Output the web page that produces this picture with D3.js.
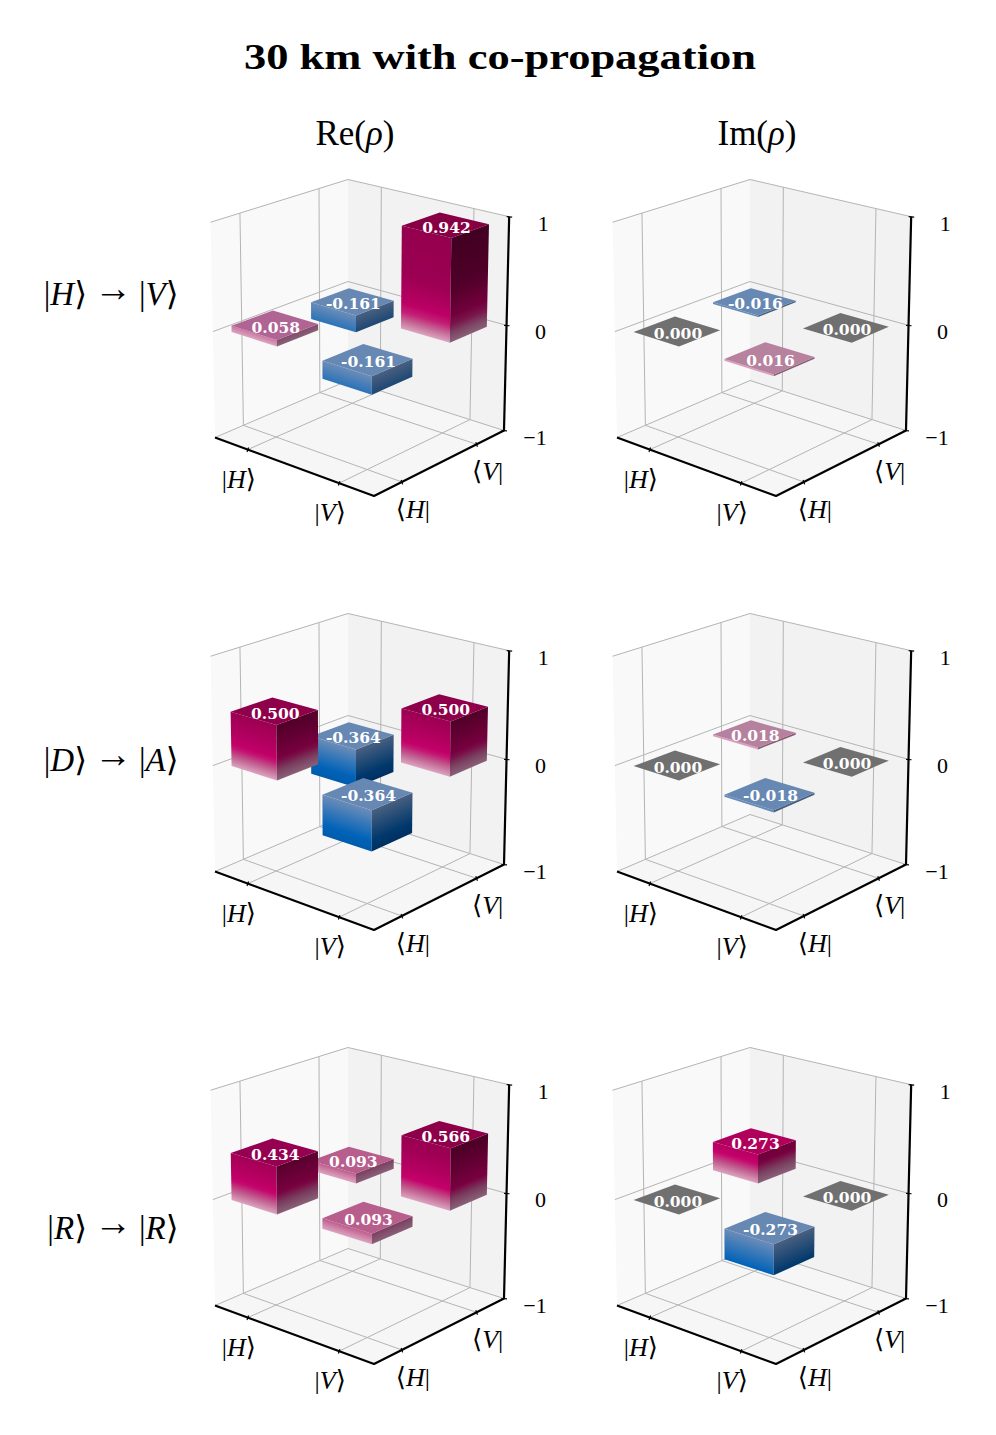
<!DOCTYPE html>
<html>
<head>
<meta charset="utf-8">
<script src="https://cdn.jsdelivr.net/npm/d3@7"></script>
<style>
  html, body { margin: 0; padding: 0; background: #fff; }
  text { font-family: "Liberation Serif", "DejaVu Serif", serif; fill: #000; }
</style>
</head>
<body>
<svg id="chart" width="996" height="1435"></svg>
<script>
const kets = ["H", "V"];
const rowLabels = [["H", "V"], ["D", "A"], ["R", "R"]];
const colLabels = ["Re", "Im"];
const zTicks = [-1, 0, 1];

// [x index, y index] -> value, in drawing order: back, right, left, front
const cellX = [0, 1, 0, 1];
const cellY = [1, 1, 0, 0];
const reRow1 = [-0.161, 0.942, 0.058, -0.161];
const imRow1 = [-0.016, 0.000, 0.000, 0.016];
const reRow2 = [-0.364, 0.500, 0.500, -0.364];
const imRow2 = [0.018, 0.000, 0.000, -0.018];
const reRow3 = [0.093, 0.566, 0.434, 0.093];
const imRow3 = [0.273, 0.000, 0.000, -0.273];
const panels = [[reRow1, imRow1], [reRow2, imRow2], [reRow3, imRow3]];

const panelDx = 402, panelDy = 434;
const barWidth = 0.51;
const xMin = -0.38, xMax = 1.36, yMin = -0.35, yMax = 1.39;

const svg = d3.select("#chart");
const defs = svg.append("defs");
let gradId = 0;

// unit box -> pixels, perspective from the back floor corner
const O = [348, 380.5], A = [215, 437.5], C = [504, 430.5], T = [348, 179.5];
const wa = -0.0722, wc = -0.0652, wh = -0.03;

const xNorm = d3.scaleLinear().domain([xMin, xMax]).range([0, 1]);
const yNorm = d3.scaleLinear().domain([yMin, yMax]).range([1, 0]);
const zNorm = d3.scaleLinear().domain([-1, 1]).range([0, 1]);

function project(x, y, z) {
  const c = xNorm(x), a = yNorm(y), h = zNorm(z);
  const d = 1 + wa * a + wc * c + wh * h;
  return [0, 1].map(i =>
    (O[i] + a * ((1 + wa) * A[i] - O[i]) + c * ((1 + wc) * C[i] - O[i]) + h * ((1 + wh) * T[i] - O[i])) / d);
}

const line = d3.line();

// colour by height
const posLeft = d3.scaleLinear().domain([0, 0.09, 0.19, 0.3, 0.5, 1]).range(["#dca4c0", "#c0608f", "#c4006a", "#b40060", "#9c0052", "#94004e"]);
const posRight = d3.scaleLinear().domain([0, 0.09, 0.19, 0.5, 1]).range(["#8a6078", "#7a4060", "#78003f", "#4f0028", "#3f0020"]);
const negLeft = d3.scaleLinear().domain([0, -0.27, -0.364]).range(["#6a8cb8", "#0062b8", "#005cab"]);
const negRight = d3.scaleLinear().domain([0, -0.27, -0.364]).range(["#4a6080", "#00386c", "#002f60"]);
const posTop = d3.scaleLinear().domain([0.016, 0.058, 0.093, 0.273, 0.434, 0.5, 0.942]).range(["#b6829e", "#b06494", "#b85e8c", "#b0005c", "#960050", "#8e004a", "#880044"]);
const negTop = "#6688b2";
const zeroTop = "#707070";

// side face of a bar, shaded from zBot to zTop with the bands parallel to its base
function sideFace(g, p, q, zBot, zTop, ramp) {
  const a = project(p[0], p[1], zBot), b = project(q[0], q[1], zBot);
  const c = project(q[0], q[1], zTop), d = project(p[0], p[1], zTop);
  const ex = b[0] - a[0], ey = b[1] - a[1], hx = d[0] - a[0], hy = d[1] - a[1];
  const k = (hx * ex + hy * ey) / (ex * ex + ey * ey);
  const id = "shade" + (gradId++);
  const grad = defs.append("linearGradient").attr("id", id).attr("gradientUnits", "userSpaceOnUse")
    .attr("x1", a[0]).attr("y1", a[1]).attr("x2", a[0] + hx - k * ex).attr("y2", a[1] + hy - k * ey);
  d3.range(0, 13).forEach(i => {
    const t = i / 12;
    grad.append("stop").attr("offset", t).attr("stop-color", ramp(zBot + (zTop - zBot) * t));
  });
  g.append("path").attr("d", line([a, b, c, d]) + "Z").attr("fill", `url(#${id})`);
}

function drawBar(g, x, y, v) {
  const hw = barWidth / 2;
  const x0 = x - hw, x1 = x + hw, y0 = y - hw, y1 = y + hw;
  const zTop = Math.max(v, 0), zBot = Math.min(v, 0);
  if (v !== 0) {
    sideFace(g, [x0, y0], [x1, y0], zBot, zTop, v > 0 ? posLeft : negLeft);
    sideFace(g, [x1, y0], [x1, y1], zBot, zTop, v > 0 ? posRight : negRight);
  }
  const top = v === 0 ? zeroTop : v < 0 ? negTop : posTop(v);
  g.append("path").attr("fill", top).attr("d", line([
    project(x0, y0, zTop), project(x1, y0, zTop), project(x1, y1, zTop), project(x0, y1, zTop)
  ]) + "Z");
}

function ketText(sel, name, open, close) {
  sel.append("tspan").text(open);
  sel.append("tspan").attr("font-style", "italic").text(name);
  sel.append("tspan").text(close);
}

function drawPanel(g, values) {
  // panes
  [
    [[xMin, yMin], [xMin, yMax], "#f9f9f9"],
    [[xMin, yMax], [xMax, yMax], "#f2f2f2"]
  ].forEach(([p, q, fill]) => {
    g.append("path").attr("fill", fill).attr("d", line([
      project(p[0], p[1], -1), project(q[0], q[1], -1), project(q[0], q[1], 1), project(p[0], p[1], 1)
    ]) + "Z");
  });
  g.append("path").attr("fill", "#f6f6f6").attr("d", line([
    project(xMin, yMin, -1), project(xMax, yMin, -1), project(xMax, yMax, -1), project(xMin, yMax, -1)
  ]) + "Z");

  // grid
  const grid = pts => g.append("path").attr("d", line(pts)).attr("fill", "none")
    .attr("stroke", "#b4b4b4").attr("stroke-width", 1);
  [0, 1].forEach(t => {
    grid([project(t, yMin, -1), project(t, yMax, -1), project(t, yMax, 1)]);
    grid([project(xMax, t, -1), project(xMin, t, -1), project(xMin, t, 1)]);
  });
  zTicks.forEach(z => grid([project(xMin, yMin, z), project(xMin, yMax, z), project(xMax, yMax, z)]));

  // axes
  const axis = pts => g.append("path").attr("d", line(pts)).attr("fill", "none")
    .attr("stroke", "#000").attr("stroke-width", 2.2).attr("stroke-linejoin", "round");
  axis([project(xMin, yMin, -1), project(xMax, yMin, -1), project(xMax, yMax, -1), project(xMax, yMax, 1)]);

  const tick = (p, dx0, dy0, dx1, dy1) => g.append("line")
    .attr("x1", p[0] + dx0).attr("y1", p[1] + dy0)
    .attr("x2", p[0] + dx1).attr("y2", p[1] + dy1)
    .attr("stroke", "#000").attr("stroke-width", 1.2);

  kets.forEach((k, t) => {
    const px = project(t, yMin, -1);
    tick(px, 0.8, -2, -0.8, 2.4);
    g.append("text").attr("x", px[0] - 9).attr("y", px[1] + 38).attr("text-anchor", "middle")
      .attr("font-size", 26).call(ketText, k, "|", "⟩");
    const py = project(xMax, t, -1);
    tick(py, -0.8, -2, 0.8, 2.4);
    g.append("text").attr("x", py[0] + 11).attr("y", py[1] + 36).attr("text-anchor", "middle")
      .attr("font-size", 26).call(ketText, k, "⟨", "|");
  });

  zTicks.forEach(z => {
    const p = project(xMax, yMax, z);
    tick(p, -2.5, 0, 3, 0.4);
    g.append("text").attr("x", p[0] + (z < 0 ? 31 : 34)).attr("y", p[1] + 14).attr("text-anchor", "middle")
      .attr("font-size", 22).text(z < 0 ? "−1" : String(z));
  });

  cellX.forEach((cx, i) => drawBar(g, cx, cellY[i], values[i]));

  cellX.forEach((cx, i) => {
    const p = project(cx, cellY[i], Math.max(values[i], 0));
    g.append("text").attr("x", p[0] + 1).attr("y", p[1] + 2).attr("dy", "0.36em").attr("text-anchor", "middle")
      .attr("font-size", 15.5).attr("font-weight", "bold").style("font-family", '"DejaVu Serif"').style("fill", "#fff")
      .text(values[i].toFixed(3));
  });
}

svg.append("text").attr("x", 500).attr("y", 69).attr("text-anchor", "middle")
  .attr("font-size", 36).attr("font-weight", "bold")
  .attr("textLength", 512).attr("lengthAdjust", "spacingAndGlyphs")
  .text("30 km with co-propagation");

colLabels.forEach((c, j) => {
  const t = svg.append("text").attr("x", 355 + j * panelDx).attr("y", 145).attr("text-anchor", "middle")
    .attr("font-size", 35);
  t.append("tspan").text(c + "(");
  t.append("tspan").attr("font-style", "italic").text("ρ");
  t.append("tspan").text(")");
});

const rowY = [305, 771, 1239];
rowLabels.forEach((r, i) => {
  const y = rowY[i];
  svg.append("text").attr("x", 87).attr("y", y).attr("text-anchor", "end")
    .attr("font-size", 33).call(ketText, r[0], "|", "⟩");
  svg.append("text").attr("x", 113).attr("y", y - 4.5).attr("text-anchor", "middle")
    .attr("font-size", 38).text("→");
  svg.append("text").attr("x", 139).attr("y", y).attr("text-anchor", "start")
    .attr("font-size", 33).call(ketText, r[1], "|", "⟩");
  [0, 1].forEach(j => {
    const g = svg.append("g").attr("transform", `translate(${j * panelDx},${i * panelDy})`);
    drawPanel(g, panels[i][j]);
  });
});
</script>
</body>
</html>
